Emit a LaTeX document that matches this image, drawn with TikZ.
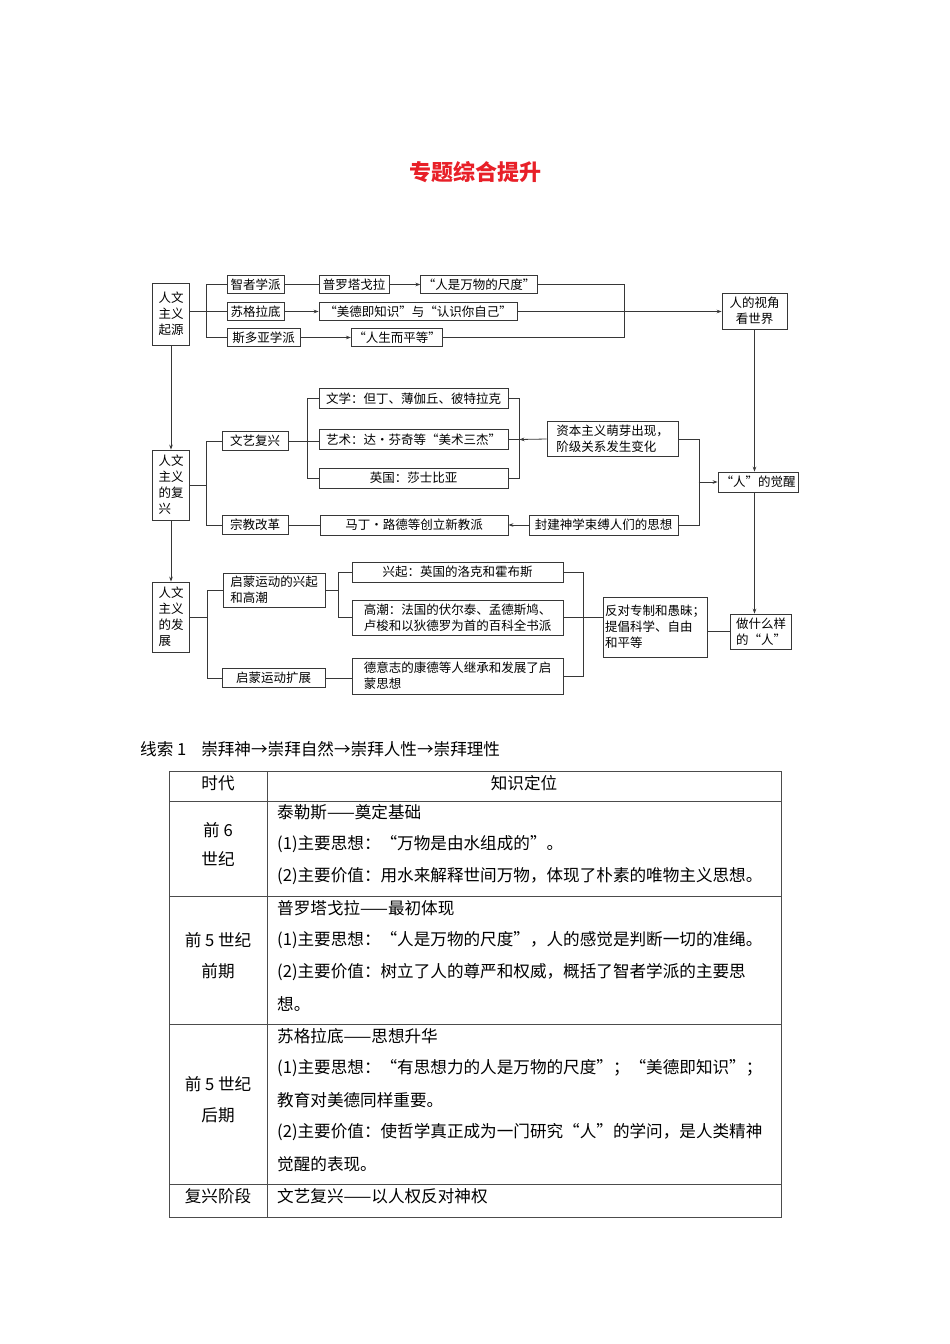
\documentclass[tikz,border=0pt]{standalone}
\usepackage{fontspec}
\setmainfont{Noto Sans CJK SC}
\usetikzlibrary{arrows.meta}

\definecolor{linegray}{RGB}{55,55,55}
\definecolor{titlered}{RGB}{232,32,40}

\begin{document}
\begin{tikzpicture}[x=1pt, y={(0pt,-1pt)},
  box/.style={draw=linegray, line width=0.8pt, inner sep=2pt, minimum height=18pt,
    font=\fontsize{12.5}{16}\selectfont, align=center},
  lbox/.style={box, align=left},
  arr/.style={-{Stealth[length=5pt,width=3.6pt]}},
  link/.style={draw=linegray, line width=0.8pt},
  cell/.style={font=\fontsize{16.6}{20}\selectfont, inner sep=0pt},
  rule/.style={draw=black!70, line width=0.9pt}]

  \useasboundingbox[fill=white] (0,0) rectangle (950,1344);

  \node[font=\fontsize{22}{26}\selectfont\bfseries, text=titlered] (title) at (475,172) {专题综合提升};

  % left column
  \node[lbox, minimum width=37pt, minimum height=62pt] (origin) at (171,314) {人文\\主义\\起源};
  \node[lbox, minimum width=37pt, minimum height=70pt] (revival) at (171,485) {人文\\主义\\的复\\兴};
  \node[lbox, minimum width=37pt, minimum height=70pt] (growth) at (171,617) {人文\\主义\\的发\\展};

  % origin row
  \node[box, minimum width=57pt] (sophist) at (255.5,284.5) {智者学派};
  \node[box, minimum width=57pt] (socrates) at (255.5,311.5) {苏格拉底};
  \node[box, minimum width=73pt] (stoic) at (263.5,337.5) {斯多亚学派};
  \node[box, minimum width=70pt] (protag) at (354,284.5) {普罗塔戈拉};
  \node[box, minimum width=116pt] (measure) at (479,284.5) {“人是万物的尺度”};
  \node[box, minimum width=198pt] (virtue) at (418,311.5) {“美德即知识”与“认识你自己”};
  \node[box, minimum width=82pt] (equal) at (397,337.5) {“人生而平等”};
  \node[box, minimum width=65pt, minimum height=36pt] (view) at (754.5,311) {人的视角\\看世界};

  % revival row
  \node[box, minimum width=66pt, minimum height=19pt] (arts) at (255,441) {文艺复兴};
  \node[box, minimum width=66pt, minimum height=19pt] (reform) at (255,525) {宗教改革};
  \node[box, minimum width=189pt, minimum height=20pt] (letters) at (413.5,398.5) {文学：但丁、薄伽丘、彼特拉克};
  \node[box, minimum width=189pt, minimum height=20pt] (paint) at (413.5,439.5) {艺术：达·芬奇等“美术三杰”};
  \node[box, minimum width=189pt, minimum height=20pt] (england) at (413.5,478) {英国：莎士比亚};
  \node[box, minimum width=188pt, minimum height=20pt] (luther) at (414,525) {马丁·路德等创立新教派};
  \node[lbox, minimum width=131pt, minimum height=35pt] (capital) at (612.5,439) {资本主义萌芽出现，\\阶级关系发生变化};
  \node[box, minimum width=149pt, minimum height=20pt] (feudal) at (603.5,525) {封建神学束缚人们的思想};
  \node[box, minimum width=80pt, minimum height=20pt] (awake) at (758,482) {“人”的觉醒};

  % growth row
  \node[lbox, minimum width=102pt, minimum height=34pt] (rise) at (274,590) {启蒙运动的兴起\\和高潮};
  \node[box, minimum width=103pt, minimum height=19pt] (spread) at (273.5,678) {启蒙运动扩展};
  \node[box, minimum width=211pt, minimum height=20pt] (start) at (457.5,572) {兴起：英国的洛克和霍布斯};
  \node[lbox, minimum width=211pt, minimum height=35pt] (peak) at (457.5,617.5) {高潮：法国的伏尔泰、孟德斯鸠、\\卢梭和以狄德罗为首的百科全书派};
  \node[lbox, minimum width=211pt, minimum height=36pt] (german) at (457.5,676) {德意志的康德等人继承和发展了启\\蒙思想};
  \node[lbox, minimum width=104pt, minimum height=60pt] (oppose) at (655,627) {反对专制和愚昧；\\提倡科学、自由\\和平等};
  \node[lbox, minimum width=61pt, minimum height=35pt] (whom) at (761,631.5) {做什么样\\的“人”};

  % connectors
  \draw[link, arr] (origin) -- (revival);
  \draw[link, arr] (revival) -- (growth);

  \draw[link] (origin.east |- socrates.west) -- (socrates.west);
  \draw[link] (sophist.west) -- ++(-20,0) |- (stoic.west);
  \draw[link] (sophist) -- (protag);
  \draw[link, arr] (protag) -- (measure);
  \draw[link, arr] (socrates) -- (virtue);
  \draw[link, arr] (stoic) -- (equal);
  \draw[link] (measure.east) -- ++(87,0) |- (equal.east);
  \draw[link, arr] (virtue.east) -- (view.west |- virtue.east);
  \draw[link, arr] (view.south) -- (view.south |- awake.north);
  \draw[link, arr] (view.south |- awake.south) -- (view.south |- whom.north);

  \draw[link] (revival.east) -- ++(17,0);
  \draw[link] (arts.west) -- ++(-15,0) |- (reform.west);
  \draw[link] (arts.east) -- (paint.west |- arts.east);
  \draw[link] (letters.west) -- ++(-11,0) |- (england.west);
  \draw[link] (letters.east) -- ++(11,0) |- (england.east);
  \draw[link] (paint.east) -- ++(11,0);
  \draw[link, arr] (capital.west) -- ([xshift=11pt]paint.east);
  \draw[link] (capital.east) -- ++(21,0) |- (feudal.east);
  \draw[link, arr] ([xshift=-19pt]awake.west) -- (awake.west);
  \draw[link] (reform) -- (luther);
  \draw[link, arr] (feudal) -- (luther);

  \draw[link] (growth.east) -- ++(18,0);
  \draw[link] (rise.west) -- ++(-15,0) |- (spread.west);
  \draw[link] (rise.east) -- ++(14,0);
  \draw[link] (start.west) -- ++(-13,0) |- (peak.west);
  \draw[link] (spread.east) -- (german.west |- spread.east);
  \draw[link] (start.east) -- ++(20,0) |- (german.east);
  \draw[link] (peak.east) -- (oppose.west |- peak.east);
  \draw[link] (oppose.east |- whom.west) -- (whom.west);

  % clue line
  \node[cell, anchor=west] (clue) at (140,749) {线索 1\hspace{0.9em}崇拜神→崇拜自然→崇拜人性→崇拜理性};

  % table
  \draw[rule] (169,771) rectangle (781,1217);
  \draw[rule] (267,771) -- (267,1217);
  \draw[rule] (169,801) -- (781,801);
  \draw[rule] (169,896) -- (781,896);
  \draw[rule] (169,1024) -- (781,1024);
  \draw[rule] (169,1184) -- (781,1184);

  \node[cell] (hage) at (218,783) {时代};
  \node[cell] (hknow) at (524,783) {知识定位};

  \node[cell, align=center, font=\fontsize{16.6}{29}\selectfont] (age1) at (218,844) {前 6\\世纪};
  \node[cell, align=center, font=\fontsize{16.6}{31}\selectfont] (age2) at (218,956) {前 5 世纪\\前期};
  \node[cell, align=center, font=\fontsize{16.6}{31}\selectfont] (age3) at (218,1100) {前 5 世纪\\后期};
  \node[cell] (age4) at (218,1196) {复兴阶段};

  \node[cell, anchor=west] (a1) at (277,812) {泰勒斯——奠定基础};
  \node[cell, anchor=west] (a2) at (277,844) {(1)主要思想：“万物是由水组成的”。};
  \node[cell, anchor=west] (a3) at (277,876) {(2)主要价值：用水来解释世间万物，体现了朴素的唯物主义思想。};

  \node[cell, anchor=west] (b1) at (277,908) {普罗塔戈拉——最初体现};
  \node[cell, anchor=west] (b2) at (277,940) {(1)主要思想：“人是万物的尺度”，人的感觉是判断一切的准绳。};
  \node[cell, anchor=west] (b3) at (277,972) {(2)主要价值：树立了人的尊严和权威，概括了智者学派的主要思};
  \node[cell, anchor=west] (b4) at (277,1004) {想。};

  \node[cell, anchor=west] (c1) at (277,1036) {苏格拉底——思想升华};
  \node[cell, anchor=west] (c2) at (277,1068) {(1)主要思想：“有思想力的人是万物的尺度”；“美德即知识”；};
  \node[cell, anchor=west] (c3) at (277,1100) {教育对美德同样重要。};
  \node[cell, anchor=west] (c4) at (277,1132) {(2)主要价值：使哲学真正成为一门研究“人”的学问，是人类精神};
  \node[cell, anchor=west] (c5) at (277,1164) {觉醒的表现。};

  \node[cell, anchor=west] (d1) at (277,1196) {文艺复兴——以人权反对神权};
\end{tikzpicture}
\end{document}
